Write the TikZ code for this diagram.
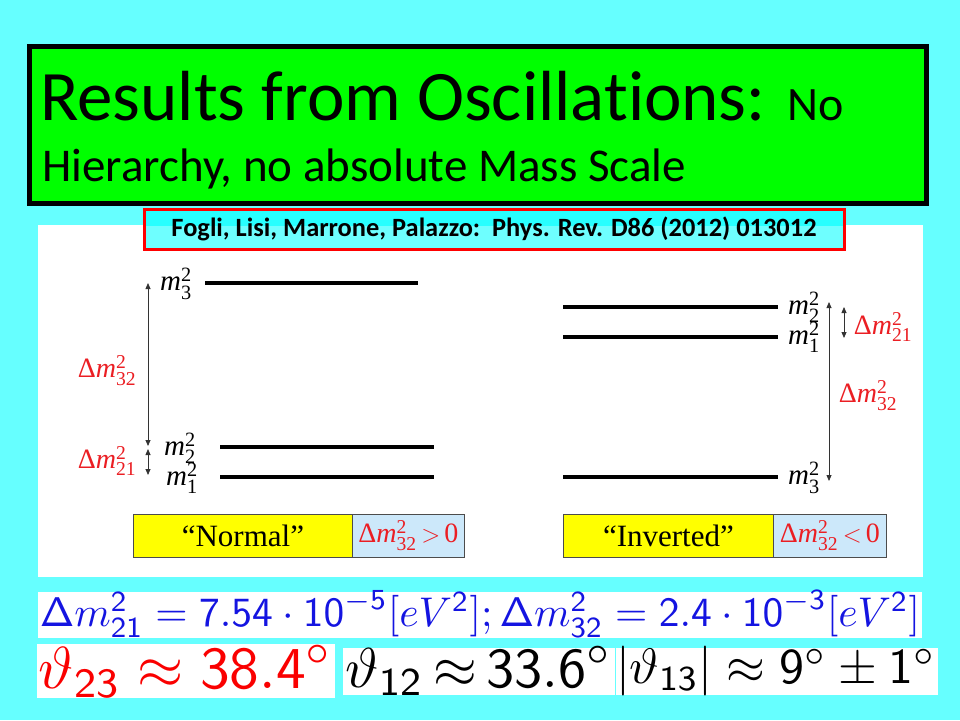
\documentclass[tikz,border=0pt]{standalone}
\usepackage{amsmath}
\usepackage{graphicx}
\usepackage[no-math]{fontspec}
\newfontfamily\calfont[Ligatures={NoCommon,TeX}]{Carlito}
\newfontfamily\tmsfont{Liberation Serif}
\usetikzlibrary{arrows.meta}
\definecolor{bgcyan}{RGB}{102,255,255}
\definecolor{refcyanA}{RGB}{40,255,255}
\definecolor{refcyanB}{RGB}{110,255,255}
\definecolor{titlegreen}{RGB}{0,255,0}
\definecolor{lblred}{RGB}{235,30,35}
\definecolor{ptyellow}{RGB}{255,255,0}
\definecolor{ptblue}{RGB}{204,232,250}
\definecolor{fblue}{RGB}{20,20,225}
\definecolor{fred}{RGB}{250,0,0}
\newcommand\msq[1]{$\textit{m}^{\textup{2}}_{\textup{#1}}$}
\newcommand\dmsq[1]{$\textup{Δ}\textit{m}^{\textup{2}}_{\textup{#1}}$}
\tikzset{
  level/.style={line width=4.5pt},
  mlabel/.style={font=\tmsfont\fontsize{29}{31}\selectfont, inner sep=0pt},
  dlabel/.style={font=\tmsfont\fontsize{28}{30}\selectfont, text=lblred, inner sep=0pt},
  dmarrow/.style={line width=0.8pt, draw=black!80, {Triangle[length=6pt,width=5pt]}-{Triangle[length=6pt,width=5pt]}},
  casebox/.style={draw=black!70, line width=0.8pt, fill=ptyellow, anchor=north west, inner sep=0pt,
    minimum height=43pt, font=\tmsfont\fontsize{31}{33}\selectfont},
  signbox/.style={draw=black!70, line width=0.8pt, fill=ptblue, anchor=north west, inner sep=0pt,
    minimum height=43pt, text=lblred, font=\tmsfont\fontsize{28}{30}\selectfont},
  whitebox/.style={fill=white, inner sep=0pt, anchor=north west},
}
\begin{document}
\begin{tikzpicture}[x=1pt,y=-1pt]
\fill[bgcyan] (0,0) rectangle (960,720);
\useasboundingbox (0,0) rectangle (960,720);
% title
\node (title) [fill=titlegreen, draw=black, line width=5pt, anchor=north west, inner sep=0pt,
  minimum width=897pt, minimum height=157pt] at (27,44) {};
\node (t1) [anchor=base west, inner sep=0pt, font=\calfont\fontsize{71}{75}\selectfont] at (40,120)
  {Results from Oscillations: {\fontsize{48}{50}\selectfont No}};
\node (t2) [anchor=base west, inner sep=0pt, font=\calfont\fontsize{47}{50}\selectfont] at (42,181)
  {Hierarchy, no absolute Mass Scale};
% white panel
\fill[white] (38,225) rectangle (923,577);
% reference box (semi-transparent cyan look)
\node (ref) [draw=red, line width=3pt, fill=refcyanB,
  path picture={\fill[refcyanA] (path picture bounding box.north west) rectangle
     ([yshift=-17pt]path picture bounding box.north east);},
  minimum width=700pt, minimum height=40pt, inner sep=0pt,
  font=\calfont\bfseries\fontsize{25}{27}\selectfont] at (494,229)
  {\resizebox{645pt}{!}{Fogli, Lisi, Marrone, Palazzo:\ \ Phys. Rev. D86 (2012) 013012}};
% Normal hierarchy
\draw[level] (205,283) -- (418,283);
\draw[level] (220,447) -- (434,447);
\draw[level] (220,477) -- (434,477);
\node (nm3) [mlabel, anchor=west] at (160,284) {\msq{3}};
\node (nm2) [mlabel, anchor=west] at (164,448) {\msq{2}};
\node (nm1) [mlabel, anchor=west] at (166,478) {\msq{1}};
\coordinate (na) at (148,283);
\coordinate (nb) at (148,446);
\coordinate (nc) at (148,449);
\coordinate (nd) at (148,475);
\draw[dmarrow] (na) -- (nb);
\draw[dmarrow] (nc) -- (nd);
\node (nd32) [dlabel] at (107,371) {\dmsq{32}};
\node (nd21) [dlabel] at (107,461) {\dmsq{21}};
\node (nyel) [casebox, minimum width=219pt] at (133,514) {“Normal”};
\node (nblu) [signbox, minimum width=112pt] at (352,514) {\dmsq{32}\,${>}\,\textup{0}$};
% Inverted hierarchy
\draw[level] (563,307) -- (778,307);
\draw[level] (563,337) -- (778,337);
\draw[level] (563,477) -- (778,477);
\node (im2) [mlabel, anchor=west] at (788,307) {\msq{2}};
\node (im1) [mlabel, anchor=west] at (788,337) {\msq{1}};
\node (im3) [mlabel, anchor=west] at (788,478) {\msq{3}};
\coordinate (ia) at (829,302);
\coordinate (ib) at (829,481);
\coordinate (ic) at (844,307);
\coordinate (id) at (844,338);
\draw[dmarrow] (ia) -- (ib);
\draw[dmarrow] (ic) -- (id);
\node (id21) [dlabel] at (883,327) {\dmsq{21}};
\node (id32) [dlabel] at (868,396) {\dmsq{32}};
\node (iyel) [casebox, minimum width=210pt] at (563,514) {“Inverted”};
\node (iblu) [signbox, minimum width=113pt] at (773,514) {\dmsq{32}\,${<}\,\textup{0}$};
% bottom formulas
\node (fb) [whitebox, minimum width=884pt, minimum height=46pt] at (38,592) {};
\node (fbt) [inner sep=0pt, text=fblue] at (480,614)
  {\resizebox{880pt}{!}{$\mathsf{\Delta}m^{\mathsf{2}}_{\mathsf{21}}=\mathsf{7.54}\cdot\mathsf{10}^{-\mathsf{5}}[eV^{\mathsf{2}}];
   \mathsf{\Delta}m^{\mathsf{2}}_{\mathsf{32}}=\mathsf{2.4}\cdot\mathsf{10}^{-\mathsf{3}}[eV^{\mathsf{2}}]$}};
\node (fr) [whitebox, minimum width=298pt, minimum height=54pt] at (37,644) {};
\node (frt) [inner sep=0pt, text=fred] at (186,671)
  {\resizebox{294pt}{!}{$\vartheta_{\mathsf{23}}\approx\mathsf{38.4}^{\circ}$}};
\node (fk1) [whitebox, minimum width=272pt, minimum height=47pt] at (343,648) {};
\node (fk1t) [inner sep=0pt] at (479,671)
  {\resizebox{266pt}{!}{$\vartheta_{\mathsf{12}}\mathrel{\mkern-2mu\approx\mkern-2mu}\mathsf{33.6}^{\circ}$}};
\node (fk2) [whitebox, minimum width=322pt, minimum height=47pt] at (616,648) {};
\node (fk2t) [inner sep=0pt] at (776,671)
  {\resizebox{320pt}{!}{$|\vartheta_{\mathsf{13}}|\approx\mathsf{9}^{\circ}\pm\mathsf{1}^{\circ}$}};
\end{tikzpicture}
\end{document}
